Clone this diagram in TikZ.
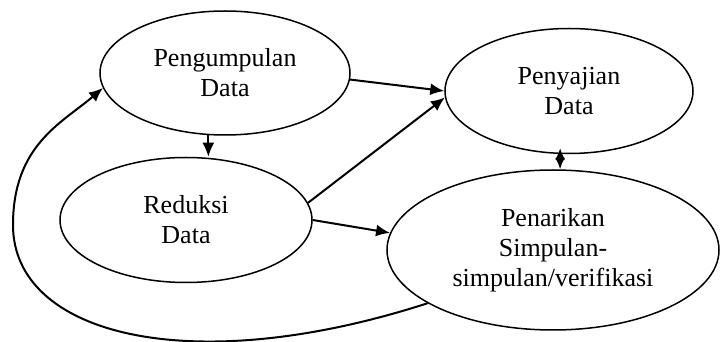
\documentclass[tikz,border=0pt]{standalone}
\usepackage{fontspec}
\setmainfont{Liberation Serif}
\usetikzlibrary{arrows.meta,positioning,shapes.geometric}

\begin{document}
\begin{tikzpicture}[>={Latex[length=7pt,width=6pt]},x=0.5pt,y=-0.5pt,on grid,line width=1pt]
\tikzstyle{tahap} = [ellipse,draw=black,line width=0.75pt,inner sep=0pt,align=center,font=\fontsize{13}{15}\selectfont]
\useasboundingbox (0,0) rectangle (720,342);
    \node[tahap,minimum width=125pt,minimum height=62pt] (kumpul) at (225,73) {Pengumpulan\\Data};
    \node[tahap,minimum width=126pt,minimum height=62.5pt] (reduksi) [below left=73.5pt and 19.5pt of kumpul] {Reduksi\\Data};
    \node[tahap,minimum width=124pt,minimum height=62.5pt] (saji) [below right=9pt and 172pt of kumpul] {Penyajian\\Data};
    \node[tahap,minimum width=166pt,minimum height=80pt] (tarik) [below left=79.5pt and 8pt of saji] {Penarikan\\Simpulan-\\simpulan/verifikasi};

    \tikzset{flow/.style={->}}
    \draw (kumpul.-3) edge [flow] (saji.west);
    \draw (kumpul.-105) edge [flow] (kumpul.-105 |- reduksi.north);
    \draw (reduksi.8) edge [flow] (saji.183);
    \draw (reduksi.east) edge [flow] (tarik.174);
    \draw (saji.-98) edge [{Latex[length=5.75pt,width=5pt]}-{Latex[length=5.75pt,width=5pt]}, shorten <=-3pt] (tarik.85);
    \draw[flow] (tarik.203) .. controls (190,380) and (13,335) .. (13,225)
        .. controls (13,145) and (62,123) .. (kumpul.187);
\end{tikzpicture}
\end{document}
